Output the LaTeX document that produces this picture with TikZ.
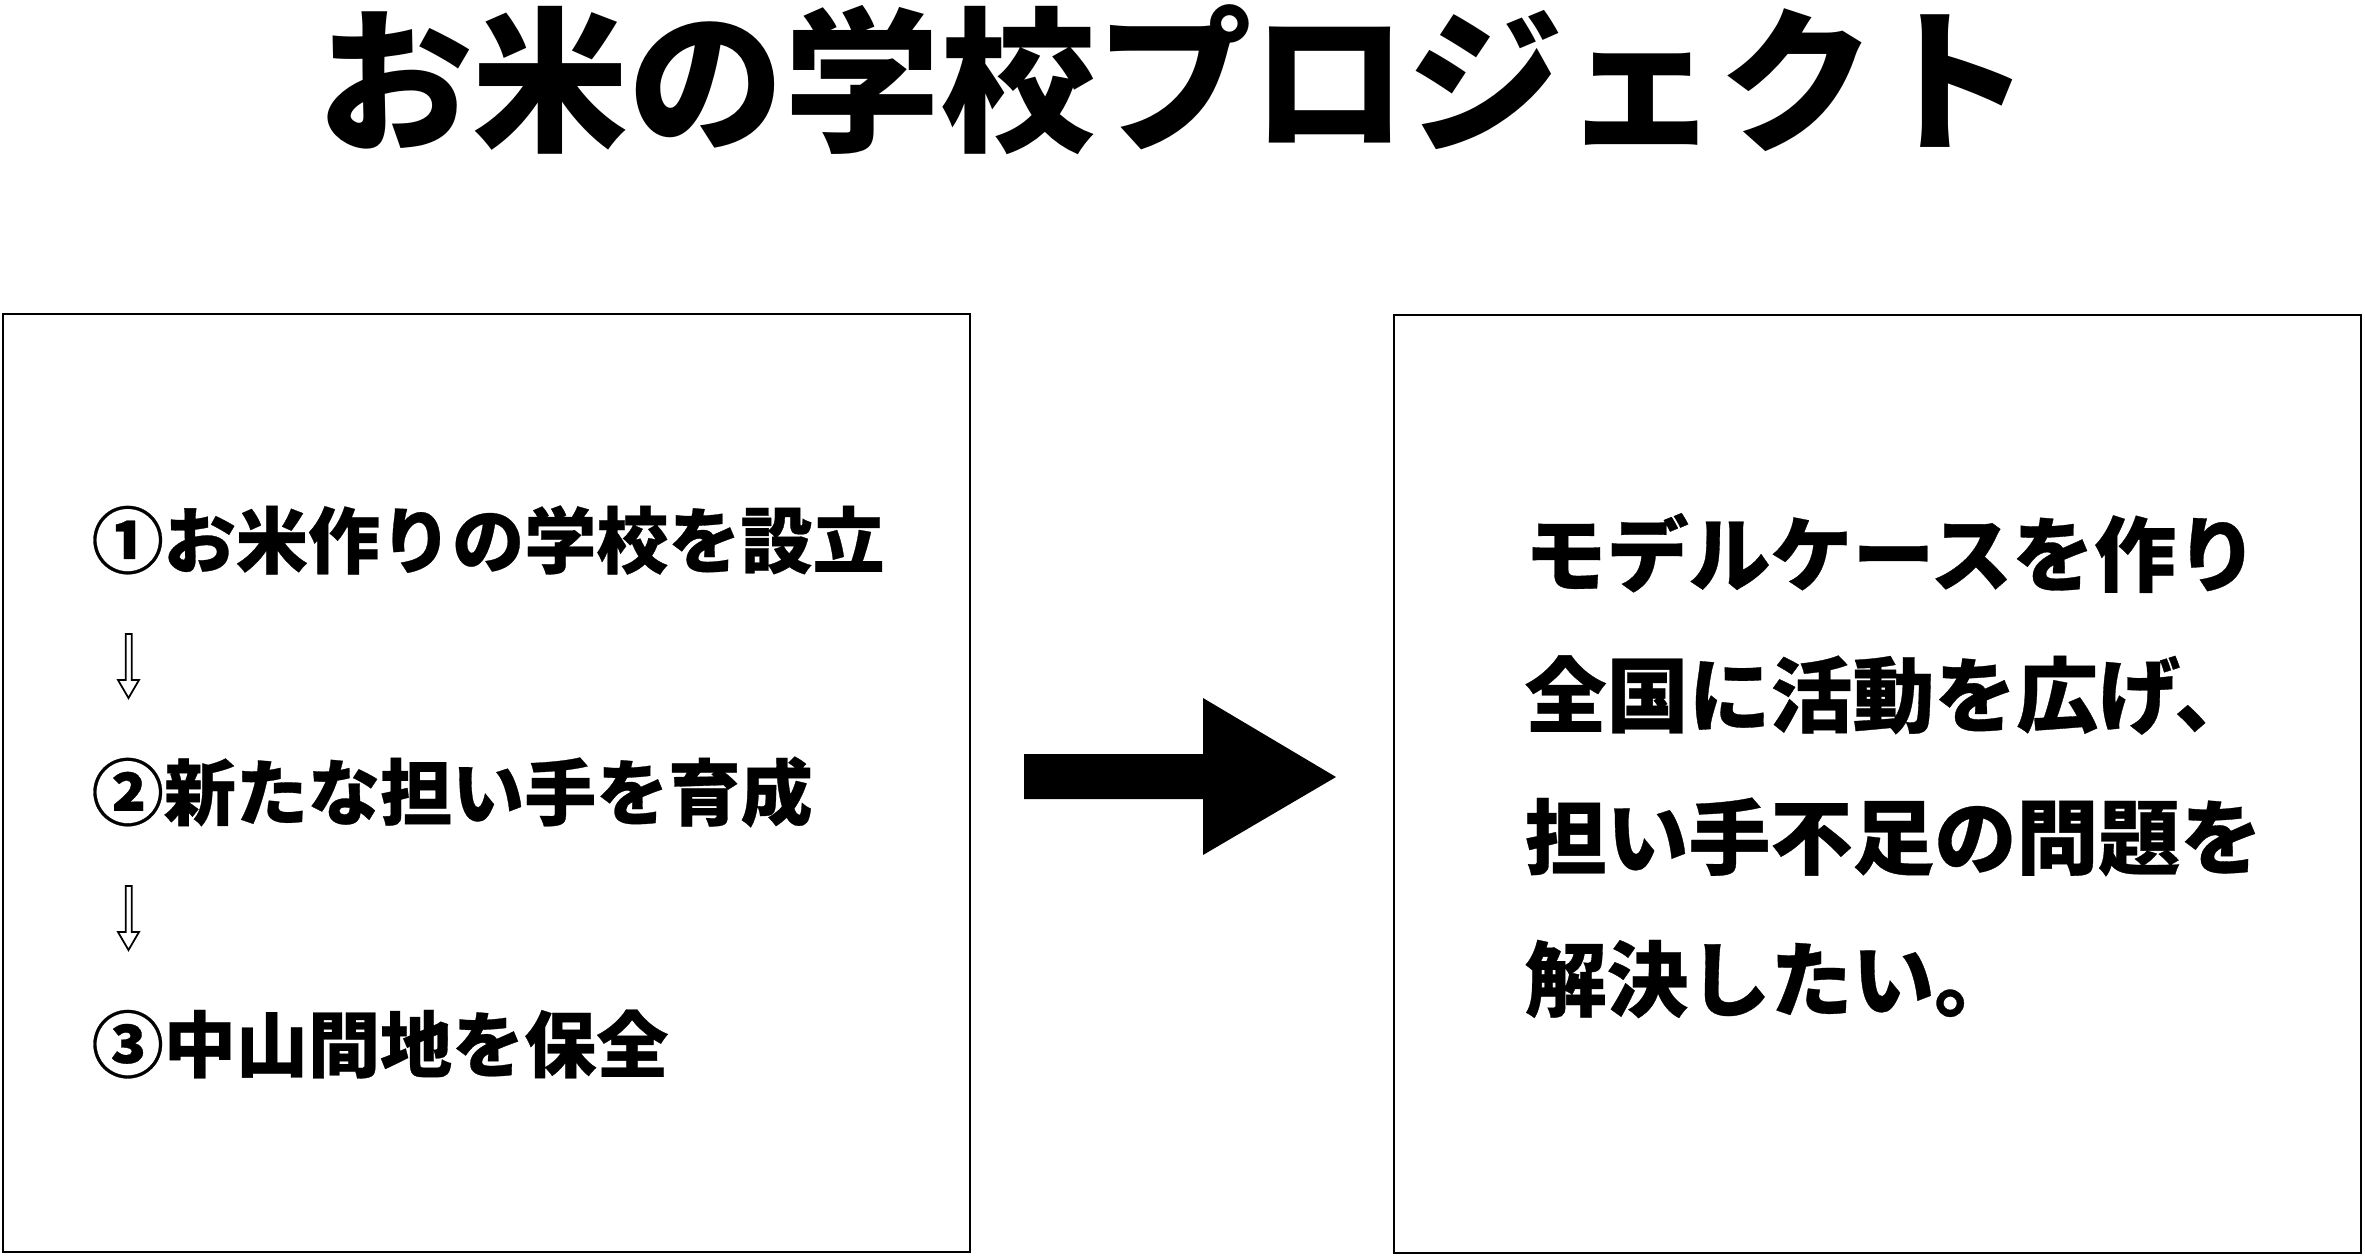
\documentclass[tikz,border=0pt]{standalone}
\usepackage{fontspec}
\setmainfont{Noto Sans CJK JP Black}
\newfontfamily\heavyjp{Noto Sans CJK JP Black}[FakeBold=0.4]

\tikzstyle{every node}=[inner sep=0pt]
\tikzstyle{panel}=[draw, line width=0.6pt, minimum width=9.67cm, minimum height=9.38cm]
\tikzstyle{stepline}=[anchor=west, font=\heavyjp\fontsize{20.5pt}{24pt}\selectfont]
\tikzstyle{goalline}=[anchor=west, font=\heavyjp\fontsize{23.3pt}{28pt}\selectfont]

\begin{document}
\begin{tikzpicture}[x=0.01cm, y=-0.01cm]
    \useasboundingbox (0,0) rectangle (2365,1257);
    \node (title) at (1174,80) {\fontsize{44.3pt}{50pt}\selectfont お米の学校プロジェクト};
    \node[panel] (left) at (486.5,783) {};
    \node[panel] (right) at (1877.5,784) {};
    % steps
    \node[stepline] (s1) at (91,540) {①お米作りの学校を設立};
    \node[stepline] (s2) at (91,792) {②新たな担い手を育成};
    \node[stepline] (s3) at (91,1044) {③中山間地を保全};
    \foreach \y in {634,886}
        \draw[line width=0.5pt] (125.7,\y) -- (131.7,\y) -- (131.7,\y+46) -- (139,\y+46)
            -- (128.5,\y+64) -- (118,\y+46) -- (125.7,\y+46) -- cycle;
    % big arrow
    \fill (1024,754) -- (1203,754) -- (1203,698) -- (1336,777) -- (1203,855)
        -- (1203,799) -- (1024,799) -- cycle;
    % goal
    \node[goalline] (g1) at (1524,553) {モデルケースを作り};
    \node[goalline] (g2) at (1524,695) {全国に活動を広げ、};
    \node[goalline] (g3) at (1524,837) {担い手不足の問題を};
    \node[goalline] (g4) at (1524,979) {解決したい。};
\end{tikzpicture}
\end{document}
